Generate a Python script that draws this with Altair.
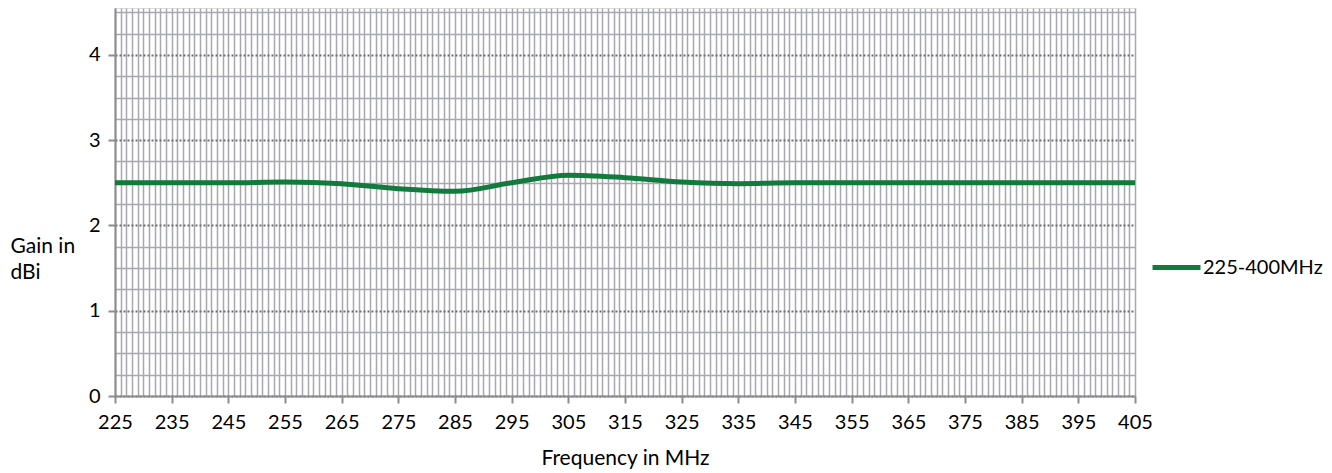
import altair as alt
import pandas as pd

freq = [225, 235, 245, 255, 265, 275, 285, 295, 305, 315, 325, 335, 345, 355, 365, 375, 385, 395, 405]
gain = [2.5, 2.5, 2.5, 2.51, 2.49, 2.43, 2.4, 2.5, 2.59, 2.56, 2.51, 2.49, 2.5, 2.5, 2.5, 2.5, 2.5, 2.5, 2.5]
series_name = "225-400MHz"

x_ticks = list(range(225, 406, 10))
x_minor = list(range(225, 406, 1))
y_ticks = [0, 1, 2, 3, 4]
y_minor = [v / 4 for v in range(0, 19) if v % 4 != 0]

df = pd.DataFrame({"freq": freq, "gain": gain, "series": [series_name] * len(freq)})

FONT = "Lato"
GRID = "#a8a9b0"
AX = "#8c8c8c"

xs = alt.Scale(domain=[225, 405], nice=False, zero=False)
ys = alt.Scale(domain=[0, 4.55], nice=False)

base = alt.Chart(df)

grid_layer = base.mark_point(opacity=0).encode(
    x=alt.X("freq:Q", scale=xs, axis=alt.Axis(orient="top", values=x_minor, grid=True, gridColor=GRID,
                                               gridWidth=1.5, labels=False, ticks=False, domain=False, title=None)),
    y=alt.Y("gain:Q", scale=ys, axis=alt.Axis(orient="right", values=y_minor, grid=True, gridColor=GRID,
                                               gridWidth=1.5, labels=False, ticks=False, domain=False, title=None)),
)

line_layer = base.mark_line(strokeWidth=5, interpolate="monotone").encode(
    x=alt.X("freq:Q", scale=xs, axis=alt.Axis(values=x_ticks, grid=False, title="Frequency in MHz",
                                               labelFontSize=20, titleFontSize=21, titleFontWeight="normal",
                                               labelFlush=False, labelOverlap=False,
                                               labelPadding=9, titlePadding=15, tickSize=7, tickColor=AX,
                                               tickWidth=2, domainColor=AX, domainWidth=2,
                                               labelColor="#000000", titleColor="#000000")),
    y=alt.Y("gain:Q", scale=ys, axis=alt.Axis(values=y_ticks, grid=True, gridDash=[2, 2], gridColor="#6e6e6e",
                                               gridWidth=2, title=["Gain in", "dBi"], titleAngle=0,
                                               titleAlign="left", titleBaseline="alphabetic", titleX=-105, titleY=244,
                                               titleLineHeight=26, labelFontSize=20, titleFontSize=21,
                                               titleFontWeight="normal", tickSize=7, tickColor=AX,
                                               tickWidth=2, domainColor=AX, domainWidth=2, labelPadding=8,
                                               labelColor="#000000", titleColor="#000000")),
    color=alt.Color("series:N", scale=alt.Scale(range=["#127a3c"]),
                    legend=alt.Legend(title=None, orient="none", legendX=1035, legendY=233,
                                      symbolType="stroke", symbolSize=2300, symbolStrokeWidth=5,
                                      labelFontSize=20, labelFont=FONT, labelColor="#000000", labelOffset=0)),
)

chart = alt.layer(grid_layer, line_layer).resolve_axis(x="independent", y="independent").properties(
    width=1020, height=388, padding={"left": 107, "top": 0, "right": 189, "bottom": 77},
    autosize=alt.AutoSizeParams(type="none"),
).configure_view(fill="#c4cfef", stroke="transparent").configure(font=FONT, background="white")

chart.save("out.html", embed_options={"renderer": "svg", "actions": False})
